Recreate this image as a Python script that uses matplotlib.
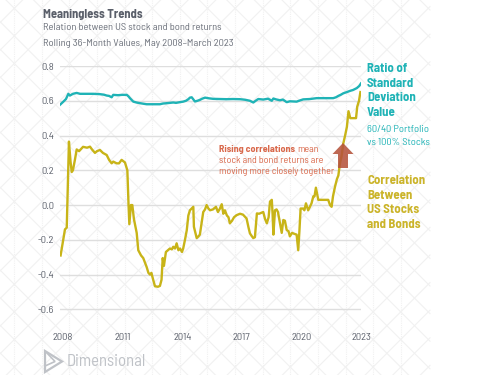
import matplotlib
matplotlib.use("Agg")
import matplotlib.pyplot as plt
import numpy as np
from matplotlib.patches import FancyArrow, Polygon

plt.rcParams['font.family'] = ['Barlow Semi Condensed', 'DejaVu Sans']

# correlation between US stocks and bonds (rolling 36m)
corr_years = [2007.88, 2008.10, 2008.19, 2008.30, 2008.38, 2008.44, 2008.50, 2008.60, 2008.69, 2008.81,
              2009.01, 2009.21, 2009.36, 2009.46, 2009.61, 2009.71, 2009.86, 2010.01, 2010.20, 2010.32,
              2010.45, 2010.53, 2010.70, 2010.82, 2010.95, 2011.12, 2011.24, 2011.30, 2011.34, 2011.42,
              2011.49, 2011.57, 2011.71, 2011.79, 2011.93, 2012.04, 2012.21, 2012.30, 2012.38, 2012.45,
              2012.54, 2012.63, 2012.78, 2012.88, 2012.96, 2013.02, 2013.08, 2013.18, 2013.28, 2013.38,
              2013.48, 2013.55, 2013.64, 2013.72, 2013.81, 2013.89, 2013.99, 2014.05, 2014.14, 2014.23,
              2014.31, 2014.39, 2014.56, 2014.59, 2014.73, 2014.82, 2014.89, 2014.98, 2015.06, 2015.15,
              2015.23, 2015.32, 2015.40, 2015.55, 2015.70, 2015.80, 2015.90, 2015.99, 2016.07, 2016.15,
              2016.25, 2016.33, 2016.40, 2016.51, 2016.61, 2016.74, 2016.91, 2017.06, 2017.24, 2017.34,
              2017.41, 2017.51, 2017.58, 2017.66, 2017.76, 2017.87, 2017.97, 2018.08, 2018.17, 2018.26,
              2018.35, 2018.42, 2018.51, 2018.55, 2018.59, 2018.67, 2018.75, 2018.82, 2018.92, 2019.01,
              2019.09, 2019.17, 2019.26, 2019.35, 2019.42, 2019.53, 2019.63, 2019.76, 2019.84, 2019.90,
              2019.96, 2020.08, 2020.15, 2020.23, 2020.34, 2020.43, 2020.51, 2020.60, 2020.66, 2020.73,
              2020.85, 2021.03, 2021.19, 2021.35, 2021.44, 2021.52, 2021.59, 2021.69, 2021.79, 2021.86,
              2021.94, 2022.02, 2022.11, 2022.20, 2022.29, 2022.37, 2022.46, 2022.61, 2022.75, 2022.81,
              2022.90, 2022.97]
corr = [-0.29, -0.14, -0.13, 0.365, 0.25, 0.19, 0.20, 0.26, 0.32, 0.31,
        0.335, 0.33, 0.336, 0.32, 0.30, 0.31, 0.317, 0.30, 0.288, 0.26,
        0.24, 0.25, 0.24, 0.24, 0.26, 0.245, 0.20, 0.0, -0.11, 0.0,
        0.0, -0.08, -0.16, -0.26, -0.29, -0.305, -0.356, -0.39, -0.40, -0.39,
        -0.43, -0.467, -0.47, -0.465, -0.43, -0.305, -0.35, -0.27, -0.26, -0.25,
        -0.255, -0.24, -0.25, -0.22, -0.26, -0.25, -0.27, -0.25, -0.20, -0.145,
        -0.06, -0.03, -0.01, -0.125, -0.19, -0.18, -0.17, -0.10, -0.04, -0.025,
        0.0, -0.02, -0.03, -0.025, -0.01, -0.04, -0.02, 0.005, -0.05, -0.03,
        -0.06, -0.07, -0.105, -0.09, -0.07, -0.058, -0.05, -0.055, -0.077, -0.13,
        -0.163, -0.18, -0.19, -0.185, -0.048, -0.05, -0.045, -0.04, -0.08, -0.105,
        -0.07, 0.02, 0.03, -0.05, -0.17, -0.03, -0.025, -0.04, -0.105, -0.16,
        -0.086, -0.09, -0.144, -0.15, -0.18, -0.16, -0.165, -0.17, -0.26, -0.15,
        -0.02, -0.02, -0.03, 0.01, -0.03, -0.01, 0.01, 0.05, 0.05, 0.10,
        0.03, 0.03, 0.03, 0.03, 0.0, -0.01, 0.05, 0.105, 0.15, 0.17,
        0.24, 0.28, 0.355, 0.40, 0.45, 0.54, 0.50, 0.50, 0.50, 0.566,
        0.60, 0.65]

# ratio of std dev, 60/40 vs 100% stocks
ratio_years = [2007.85, 2008.02, 2008.15, 2008.27, 2008.35, 2008.50, 2008.69, 2008.86, 2009.19, 2009.51,
               2009.86, 2010.06, 2010.20, 2010.32, 2010.45, 2010.53, 2010.77, 2010.97, 2011.21, 2011.30,
               2011.37, 2011.54, 2011.70, 2011.88, 2012.21, 2012.53, 2012.88, 2013.03, 2013.22, 2013.39,
               2013.55, 2013.69, 2013.89, 2014.05, 2014.19, 2014.31, 2014.39, 2014.48, 2014.56, 2014.64,
               2014.77, 2014.89, 2015.01, 2015.15, 2015.35, 2015.56, 2015.90, 2016.24, 2016.56, 2016.91,
               2017.16, 2017.41, 2017.58, 2017.72, 2017.83, 2018.08, 2018.32, 2018.51, 2018.59, 2018.72,
               2018.92, 2019.07, 2019.26, 2019.42, 2019.76, 2019.93, 2020.09, 2020.43, 2020.77, 2021.19,
               2021.60, 2021.74, 2021.86, 2021.99, 2022.11, 2022.29, 2022.45, 2022.60, 2022.79, 2022.91,
               2023.00]
ratio = [0.577, 0.595, 0.61, 0.64, 0.63, 0.64, 0.645, 0.64, 0.64, 0.64,
         0.638, 0.635, 0.63, 0.628, 0.62, 0.634, 0.632, 0.634, 0.634, 0.625,
         0.615, 0.595, 0.59, 0.586, 0.58, 0.58, 0.58, 0.584, 0.586, 0.588,
         0.59, 0.588, 0.592, 0.595, 0.60, 0.609, 0.618, 0.62, 0.608, 0.596,
         0.60, 0.605, 0.612, 0.618, 0.614, 0.611, 0.61, 0.609, 0.61, 0.609,
         0.606, 0.60, 0.59, 0.602, 0.61, 0.607, 0.612, 0.60, 0.613, 0.608,
         0.603, 0.607, 0.592, 0.597, 0.595, 0.602, 0.608, 0.61, 0.615, 0.615,
         0.615, 0.62, 0.628, 0.635, 0.643, 0.65, 0.657, 0.662, 0.673, 0.685,
         0.70]

xticks = [2008, 2011, 2014, 2017, 2020, 2023]
yticks = [-0.6, -0.4, -0.2, 0.0, 0.2, 0.4, 0.6, 0.8]

W, H = 490, 375
TEAL = '#1fb3b6'
GOLD = '#c8b418'
GOLD_TXT = '#cbb42a'
RED_TXT = '#d9694c'
GRAY = '#5b606b'

fig = plt.figure(figsize=(W / 100, H / 100), dpi=100)
fig.patch.set_facecolor('white')

# background lattice, figure pixel coords
bg = fig.add_axes([0, 0, 1, 1], zorder=0)
bg.set_xlim(0, W)
bg.set_ylim(H, 0)
bg.axis('off')
step = 27.6
lat_col = '#f1f1f1'
for k in range(-30, 40):
    c = 144 + k * step
    bg.plot([0, 430], [0 - c, 430 - c], color=lat_col, lw=0.8)
    c2 = 657.4 + k * step
    bg.plot([0, 430], [c2, c2 - 430], color=lat_col, lw=0.8)
for xv in np.arange(400.7, -1, -step):
    bg.plot([xv, xv], [0, H], color=lat_col, lw=0.8, ls=(0, (1, 1)))

# main chart
left_px, right_px, top_px, bot_px = 60, 361, 66, 325
ax = fig.add_axes([left_px / W, 1 - bot_px / H, (right_px - left_px) / W, (bot_px - top_px) / H], zorder=1)
ax.patch.set_alpha(0)
ax.set_xlim(2007.85, 2023.0)
ax.set_ylim(-0.69, 0.8)
for s in ax.spines.values():
    s.set_visible(False)
for yv in yticks:
    ax.axhline(yv, color='#dedede', lw=1.0, zorder=0)
ax.plot(ratio_years, ratio, color=TEAL, lw=1.7, zorder=3, solid_joinstyle='round')
ax.plot(corr_years, corr, color=GOLD, lw=1.7, zorder=3, solid_joinstyle='round')
ax.set_yticks(yticks)
ax.set_yticklabels([f'{v:.1f}' for v in yticks])
ax.set_xticks(xticks)
ax.set_xticklabels([str(v) for v in xticks])
ax.tick_params(length=0, labelsize=7.5, labelcolor=GRAY, pad=4)
ax.tick_params(axis='x', pad=6)

# foreground overlay for arrow and logo
fg = fig.add_axes([0, 0, 1, 1], zorder=3)
fg.set_xlim(0, W)
fg.set_ylim(H, 0)
fg.axis('off')
fg.patch.set_alpha(0)
fg.add_patch(FancyArrow(343, 168, 0, -25, width=10, head_width=21, head_length=11,
                        length_includes_head=True, color='#b5533b', alpha=0.88, lw=0))

# logo
logo_col = '#bfc2c7'
fg.add_patch(Polygon([[45, 351], [62, 361.5], [45, 372]], closed=True, fill=False, ec=logo_col, lw=1.6))
fg.add_patch(Polygon([[45, 351], [55, 361.5], [45, 366]], closed=True, fill=False, ec=logo_col, lw=1.2))


def ftext(x, y, s, **kw):
    return fig.text(x / W, 1 - y / H, s, **kw)


ftext(43, 14, 'Meaningless Trends', fontsize=9, fontweight='bold', color='#5a5f6a', va='center')
ftext(43, 28, 'Relation between US stock and bond returns', fontsize=7.5, color='#6b707a', va='center')
ftext(43, 43, 'Rolling 36-Month Values, May 2008\u2013March 2023', fontsize=7.5, color='#6b707a', va='center')

ftext(367, 90.5, 'Ratio of\nStandard\nDeviation\nValue', fontsize=9.2, fontweight='bold', color=TEAL,
      va='center', linespacing=1.4)
ftext(367, 136, '60/40 Portfolio\nvs 100% Stocks', fontsize=7.5, color=TEAL, va='center', linespacing=1.45)
ftext(367, 202.5, 'Correlation\nBetween\nUS Stocks\nand Bonds', fontsize=9.2, fontweight='bold', color=GOLD_TXT,
      va='center', linespacing=1.4)

t1 = ftext(219, 149, 'Rising correlations', fontsize=7.2, fontweight='bold', color=RED_TXT, va='center')
fig.canvas.draw()
bb = t1.get_window_extent(fig.canvas.get_renderer())
fig.text(bb.x1 / W + 2 / W, 1 - 149 / H, 'mean', fontsize=7.2, color=RED_TXT, va='center')
ftext(219, 160.5, 'stock and bond returns are', fontsize=7.2, color=RED_TXT, va='center')
ftext(219, 172, 'moving more closely together', fontsize=7.2, color=RED_TXT, va='center')

ftext(67, 362, 'Dimensional', fontsize=12, color=logo_col, va='center')

fig.savefig('out.png', dpi=100)
